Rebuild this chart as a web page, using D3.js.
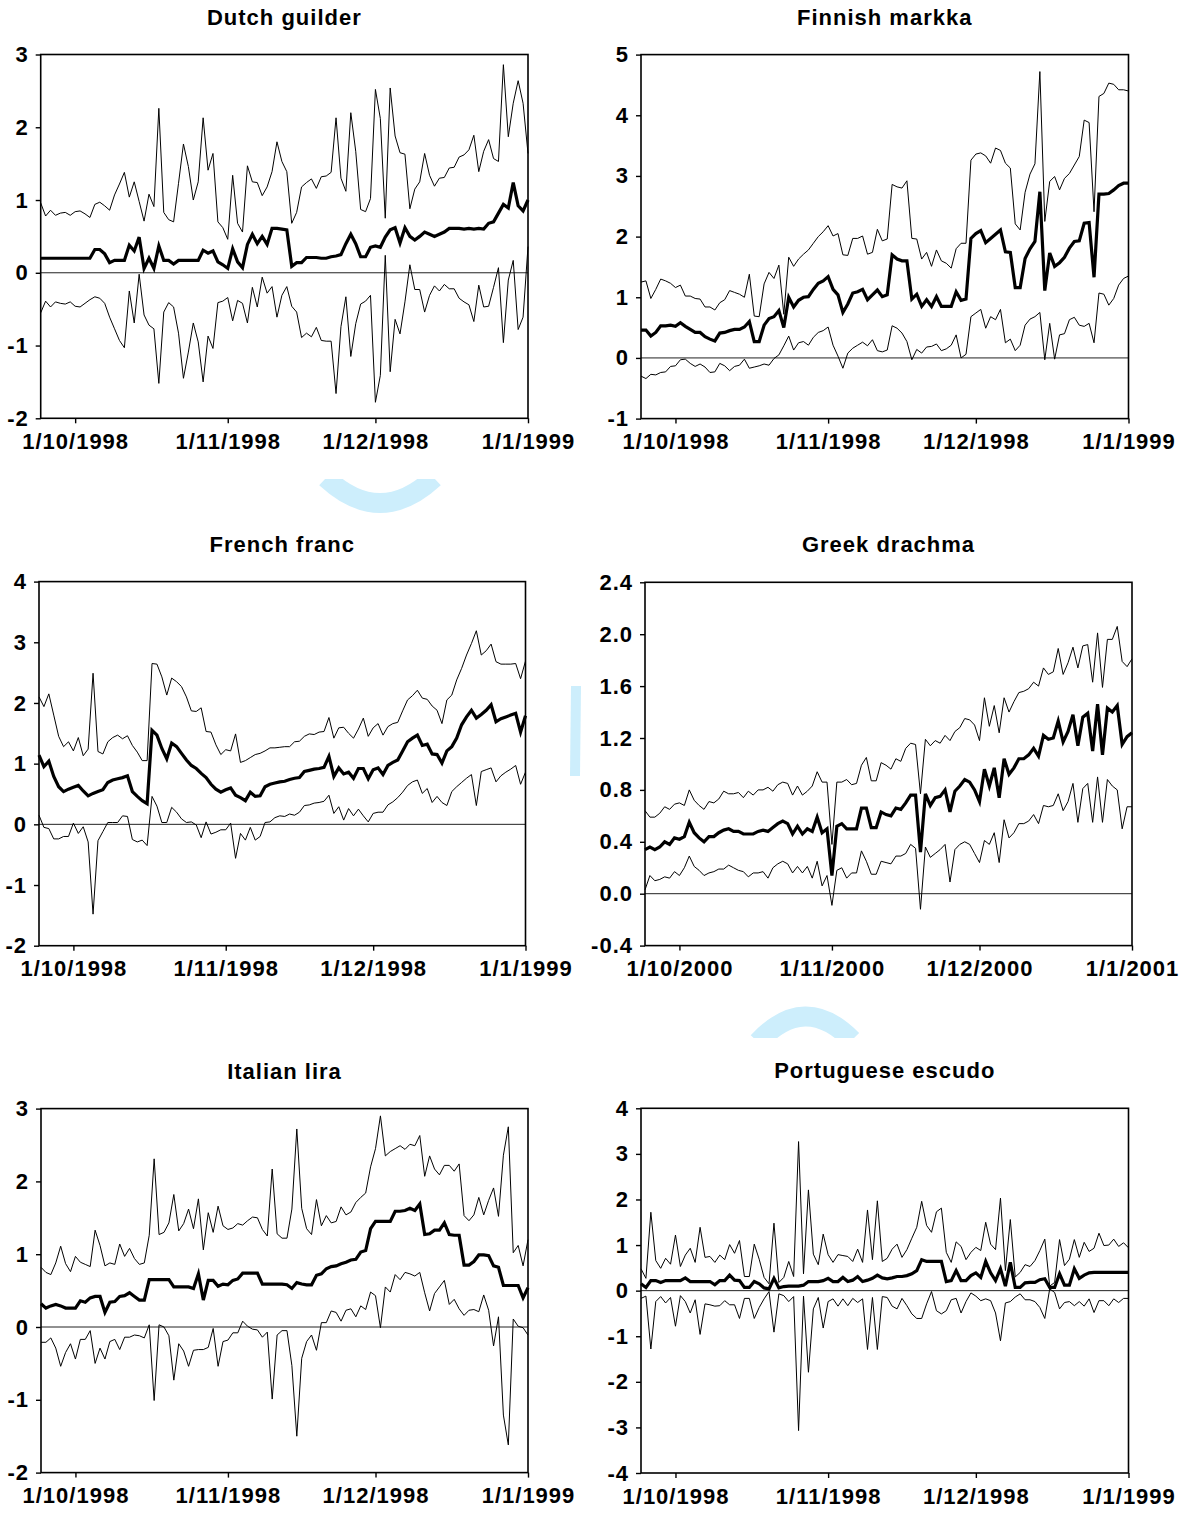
<!DOCTYPE html>
<html>
<head>
<meta charset="utf-8">
<script src="https://cdn.jsdelivr.net/npm/d3@7"></script>
<style>
  html, body { margin: 0; padding: 0; background: #ffffff; }
  svg { display: block; }
  text { font-family: "Liberation Sans", Arial, sans-serif; font-weight: bold; fill: #000; }
</style>
</head>
<body>
<div id="chart"></div>
<script>
// ---------------- DATA ----------------
const dutchUpper = [0.96,0.78,0.86,0.79,0.82,0.83,0.79,0.84,0.85,0.81,
0.76,0.94,0.97,0.92,0.86,1.07,1.22,1.38,1.04,1.25,
0.98,0.71,1.08,0.91,2.26,0.83,0.73,0.70,1.23,1.77,
1.46,1.00,1.25,2.13,1.41,1.64,0.70,0.62,0.46,1.34,
0.68,0.56,1.47,1.25,1.24,1.06,1.18,1.39,1.80,1.53,
1.39,0.68,0.83,1.18,1.24,1.29,1.16,1.32,1.33,1.38,
2.13,1.30,1.12,2.20,1.67,0.87,0.84,1.02,2.52,2.12,
0.75,2.54,1.88,1.65,1.63,0.88,1.15,1.25,1.64,1.34,
1.19,1.30,1.31,1.44,1.45,1.59,1.62,1.69,1.89,1.39,
1.67,1.83,1.57,1.53,2.86,1.87,2.33,2.64,2.33,1.64];
const dutchMid = [0.20,0.20,0.20,0.20,0.20,0.20,0.20,0.20,0.20,0.20,
0.20,0.32,0.32,0.26,0.14,0.17,0.17,0.17,0.38,0.30,
0.49,0.06,0.20,0.06,0.37,0.17,0.17,0.12,0.17,0.17,
0.17,0.17,0.17,0.31,0.27,0.30,0.15,0.11,0.06,0.33,
0.15,0.07,0.39,0.53,0.40,0.50,0.39,0.61,0.61,0.60,
0.59,0.09,0.14,0.14,0.21,0.21,0.21,0.20,0.20,0.22,
0.23,0.25,0.40,0.53,0.40,0.22,0.22,0.35,0.37,0.35,
0.49,0.59,0.62,0.41,0.62,0.50,0.45,0.50,0.56,0.53,
0.50,0.53,0.56,0.61,0.61,0.61,0.60,0.61,0.60,0.61,
0.60,0.68,0.70,0.82,0.94,0.89,1.24,0.92,0.85,1.00];
const dutchLower = [-0.55,-0.39,-0.47,-0.40,-0.42,-0.43,-0.40,-0.46,-0.47,-0.42,
-0.37,-0.33,-0.35,-0.42,-0.61,-0.77,-0.93,-1.03,-0.25,-0.69,
-0.02,-0.58,-0.72,-0.77,-1.52,-0.54,-0.41,-0.47,-0.83,-1.45,
-1.09,-0.69,-0.95,-1.50,-0.87,-1.04,-0.41,-0.39,-0.34,-0.66,
-0.38,-0.42,-0.69,-0.20,-0.47,-0.06,-0.28,-0.19,-0.61,-0.31,
-0.19,-0.46,-0.54,-0.89,-0.83,-0.88,-0.75,-0.93,-0.94,-0.94,
-1.66,-0.74,-0.33,-1.15,-0.70,-0.43,-0.39,-0.31,-1.78,-1.41,
0.24,-1.36,-0.64,-0.84,-0.40,0.11,-0.23,-0.23,-0.54,-0.31,
-0.18,-0.25,-0.16,-0.22,-0.22,-0.35,-0.40,-0.44,-0.67,-0.17,
-0.47,-0.46,-0.20,0.07,-0.96,-0.10,0.17,-0.78,-0.61,0.36];

const finnishUpper = [1.25,1.27,0.98,1.13,1.30,1.27,1.23,1.16,1.20,1.02,
1.02,0.98,0.97,0.84,0.84,0.79,0.91,0.96,1.11,1.08,
1.05,1.00,1.38,0.69,0.68,1.22,1.41,1.31,1.53,0.72,
1.66,1.51,1.63,1.71,1.78,1.89,2.00,2.08,2.18,2.01,
2.05,1.70,1.69,1.97,1.97,2.01,1.71,1.74,2.12,1.93,
1.96,2.86,2.82,2.80,2.92,1.97,1.96,1.63,1.74,1.51,
1.78,1.60,1.56,1.48,1.80,1.89,1.89,3.26,3.36,3.38,
3.33,3.21,3.46,3.42,3.21,3.13,2.21,2.11,2.73,3.03,
3.20,4.72,2.25,2.91,2.99,2.77,2.96,3.04,3.18,3.32,
3.92,3.88,2.41,4.31,4.36,4.53,4.51,4.42,4.42,4.40];
const finnishMid = [0.46,0.46,0.36,0.42,0.53,0.53,0.54,0.52,0.58,0.52,
0.47,0.42,0.42,0.35,0.31,0.28,0.41,0.42,0.45,0.47,
0.47,0.51,0.60,0.27,0.27,0.54,0.65,0.68,0.78,0.50,
1.00,0.84,0.95,1.00,1.01,1.13,1.23,1.27,1.34,1.13,
1.04,0.75,0.89,1.07,1.09,1.13,0.96,1.04,1.12,1.01,
1.04,1.70,1.63,1.60,1.60,0.97,1.05,0.85,0.96,0.85,
1.01,0.85,0.85,0.85,1.09,0.95,0.97,1.97,2.05,2.10,
1.90,1.97,2.04,2.11,1.75,1.74,1.16,1.16,1.64,1.80,
1.92,2.74,1.11,1.73,1.51,1.57,1.66,1.81,1.92,1.93,
2.22,2.23,1.33,2.70,2.70,2.71,2.77,2.84,2.88,2.88];
const finnishLower = [-0.30,-0.34,-0.27,-0.28,-0.24,-0.23,-0.14,-0.13,-0.03,-0.02,
-0.09,-0.14,-0.10,-0.15,-0.24,-0.23,-0.09,-0.13,-0.21,-0.14,
-0.12,-0.02,-0.17,-0.15,-0.13,-0.10,-0.12,-0.01,0.05,0.20,
0.36,0.13,0.25,0.27,0.21,0.34,0.42,0.45,0.51,0.21,
0.03,-0.17,0.08,0.16,0.21,0.26,0.20,0.30,0.12,0.10,
0.13,0.53,0.49,0.41,0.27,-0.03,0.14,0.08,0.18,0.19,
0.23,0.12,0.15,0.21,0.38,0.00,0.06,0.68,0.74,0.80,
0.49,0.68,0.63,0.80,0.25,0.31,0.12,0.21,0.54,0.64,
0.68,0.75,-0.03,0.57,-0.02,0.38,0.40,0.63,0.67,0.54,
0.52,0.57,0.25,1.07,1.05,0.87,0.98,1.20,1.31,1.35];

const frenchUpper = [2.10,1.94,2.15,1.80,1.45,1.28,1.36,1.21,1.43,1.13,
1.24,2.49,1.20,1.16,1.36,1.43,1.47,1.41,1.46,1.30,
1.19,1.05,1.05,2.65,2.64,2.43,2.13,2.41,2.35,2.27,
2.10,1.87,1.86,1.92,1.53,1.52,1.31,1.15,1.23,1.21,
1.49,1.02,1.05,1.10,1.15,1.17,1.21,1.26,1.26,1.27,
1.28,1.28,1.36,1.37,1.45,1.49,1.48,1.52,1.53,1.76,
1.42,1.59,1.60,1.50,1.42,1.57,1.75,1.45,1.59,1.66,
1.47,1.61,1.66,1.68,1.87,2.05,2.12,2.21,2.08,2.06,
1.95,1.88,1.66,2.05,2.13,2.38,2.57,2.79,2.98,3.19,
2.79,2.86,2.97,2.68,2.64,2.64,2.64,2.65,2.40,2.69];
const frenchMid = [1.14,0.95,1.04,0.79,0.62,0.54,0.58,0.61,0.64,0.55,
0.47,0.51,0.54,0.57,0.69,0.73,0.75,0.77,0.80,0.54,
0.46,0.39,0.34,1.55,1.47,1.25,1.08,1.34,1.28,1.17,
1.06,0.97,0.92,0.84,0.77,0.66,0.58,0.53,0.57,0.60,
0.48,0.44,0.39,0.53,0.46,0.47,0.62,0.66,0.68,0.70,
0.71,0.74,0.76,0.77,0.87,0.89,0.91,0.92,0.94,1.12,
0.79,0.93,0.83,0.86,0.76,0.92,0.92,0.75,0.90,0.93,
0.82,0.97,1.02,1.06,1.21,1.36,1.42,1.47,1.30,1.32,
1.16,1.15,1.01,1.21,1.28,1.42,1.64,1.77,1.88,1.75,
1.81,1.88,1.97,1.69,1.74,1.77,1.80,1.83,1.52,1.79];
const frenchLower = [0.15,-0.05,-0.07,-0.24,-0.24,-0.20,-0.20,0.02,-0.15,-0.04,
-0.29,-1.48,-0.27,-0.12,0.03,0.03,0.03,0.14,0.13,-0.25,
-0.29,-0.26,-0.35,0.46,0.30,0.03,0.03,0.28,0.20,0.09,
0.03,0.04,-0.01,-0.22,0.04,-0.16,-0.13,-0.09,-0.09,0.02,
-0.56,-0.15,-0.26,-0.05,-0.26,-0.20,0.03,0.04,0.11,0.14,
0.13,0.17,0.15,0.20,0.31,0.32,0.35,0.36,0.38,0.48,
0.18,0.29,0.07,0.26,0.14,0.25,0.14,0.04,0.18,0.20,
0.20,0.32,0.37,0.44,0.53,0.64,0.70,0.73,0.51,0.59,
0.36,0.46,0.36,0.31,0.54,0.62,0.69,0.76,0.82,0.31,
0.87,0.90,0.93,0.70,0.80,0.86,0.91,0.97,0.66,0.86];

const greekUpper = [0.64,0.59,0.59,0.62,0.67,0.65,0.69,0.70,0.68,0.80,
0.72,0.68,0.65,0.71,0.70,0.73,0.79,0.77,0.77,0.78,
0.74,0.79,0.76,0.80,0.80,0.82,0.79,0.84,0.86,0.85,
0.76,0.83,0.76,0.79,0.83,0.94,0.86,0.86,0.38,0.86,
0.86,0.88,0.84,0.85,0.99,1.05,0.87,0.87,1.01,0.99,
0.96,1.04,1.02,1.12,1.16,1.15,0.77,1.19,1.14,1.18,
1.16,1.22,1.18,1.25,1.28,1.35,1.34,1.30,1.18,1.51,
1.29,1.45,1.24,1.51,1.40,1.48,1.55,1.56,1.58,1.63,
1.60,1.74,1.69,1.71,1.89,1.69,1.78,1.90,1.74,1.91,
1.92,1.63,2.01,1.59,1.96,1.96,2.06,1.79,1.75,1.81];
const greekMid = [0.34,0.36,0.34,0.36,0.40,0.38,0.43,0.42,0.44,0.55,
0.47,0.43,0.40,0.44,0.44,0.47,0.49,0.50,0.48,0.48,
0.46,0.46,0.46,0.48,0.49,0.48,0.51,0.54,0.56,0.54,
0.46,0.52,0.46,0.50,0.48,0.59,0.47,0.50,0.14,0.52,
0.54,0.50,0.50,0.50,0.66,0.66,0.51,0.51,0.63,0.61,
0.60,0.66,0.65,0.70,0.76,0.76,0.32,0.77,0.68,0.74,
0.75,0.80,0.63,0.79,0.83,0.88,0.86,0.80,0.71,0.96,
0.83,0.97,0.74,1.04,0.92,0.97,1.04,1.04,1.07,1.12,
1.06,1.22,1.19,1.20,1.33,1.17,1.25,1.38,1.14,1.36,
1.39,1.10,1.46,1.07,1.43,1.40,1.45,1.15,1.21,1.24];
const greekLower = [0.03,0.14,0.10,0.11,0.13,0.12,0.17,0.14,0.20,0.29,
0.21,0.18,0.14,0.16,0.17,0.19,0.19,0.22,0.20,0.18,
0.17,0.13,0.16,0.16,0.17,0.12,0.20,0.23,0.25,0.23,
0.16,0.21,0.16,0.21,0.12,0.25,0.06,0.14,-0.09,0.18,
0.20,0.12,0.16,0.16,0.33,0.25,0.15,0.15,0.25,0.24,
0.23,0.29,0.29,0.31,0.38,0.35,-0.12,0.36,0.28,0.31,
0.34,0.38,0.09,0.34,0.38,0.40,0.38,0.31,0.24,0.41,
0.38,0.47,0.24,0.57,0.43,0.47,0.54,0.54,0.56,0.61,
0.54,0.68,0.67,0.68,0.77,0.64,0.71,0.85,0.55,0.81,
0.85,0.55,0.90,0.55,0.88,0.83,0.80,0.50,0.67,0.67];

const italianUpper = [0.82,0.75,0.72,0.88,1.11,0.87,0.76,0.97,0.89,0.86,
0.83,1.33,1.12,0.84,0.88,0.86,1.14,0.97,1.08,0.94,
0.86,0.88,1.26,2.31,1.27,1.30,1.43,1.82,1.32,1.42,
1.62,1.35,1.76,1.06,1.57,1.30,1.66,1.39,1.34,1.36,
1.42,1.40,1.46,1.51,1.50,1.34,1.25,2.17,1.28,1.22,
1.22,1.62,2.72,1.63,1.35,1.27,1.75,1.39,1.53,1.43,
1.45,1.65,1.54,1.58,1.71,1.78,1.84,2.20,2.45,2.90,
2.35,2.41,2.45,2.49,2.44,2.51,2.49,2.63,2.07,2.35,
2.17,2.09,2.22,2.22,2.14,2.24,1.53,1.46,1.54,1.78,
1.54,1.74,1.91,1.52,2.36,2.75,1.02,1.12,0.84,1.20];
const italianMid = [0.32,0.26,0.29,0.31,0.29,0.26,0.26,0.26,0.36,0.34,
0.40,0.42,0.42,0.20,0.34,0.35,0.42,0.43,0.47,0.42,
0.37,0.37,0.65,0.65,0.65,0.65,0.65,0.55,0.55,0.55,
0.55,0.53,0.73,0.37,0.64,0.64,0.56,0.59,0.58,0.64,
0.66,0.74,0.74,0.74,0.74,0.59,0.59,0.59,0.59,0.59,
0.58,0.53,0.61,0.59,0.58,0.58,0.71,0.73,0.80,0.83,
0.84,0.87,0.89,0.92,0.93,1.03,1.05,1.35,1.45,1.45,
1.45,1.45,1.59,1.59,1.60,1.63,1.60,1.69,1.27,1.28,
1.33,1.33,1.43,1.27,1.26,1.26,0.85,0.85,0.90,0.99,
0.99,0.98,0.84,0.82,0.57,0.57,0.57,0.57,0.40,0.54];
const italianLower = [-0.21,-0.21,-0.15,-0.29,-0.54,-0.35,-0.23,-0.44,-0.17,-0.17,
-0.05,-0.50,-0.29,-0.44,-0.20,-0.17,-0.31,-0.14,-0.14,-0.11,
-0.12,-0.15,0.03,-1.01,0.03,0.00,-0.12,-0.73,-0.23,-0.33,
-0.54,-0.32,-0.31,-0.31,-0.28,-0.02,-0.54,-0.20,-0.18,-0.08,
-0.08,0.08,0.01,-0.03,-0.04,-0.14,-0.07,-0.99,-0.11,-0.05,
-0.05,-0.53,-1.50,-0.43,-0.20,-0.11,-0.32,0.06,0.06,0.22,
0.20,0.08,0.23,0.25,0.14,0.29,0.24,0.48,0.43,-0.01,
0.55,0.48,0.72,0.65,0.75,0.73,0.70,0.75,0.47,0.22,
0.46,0.55,0.64,0.31,0.38,0.25,0.16,0.23,0.24,0.21,
0.44,0.23,-0.26,0.14,-1.21,-1.62,0.11,0.01,-0.01,-0.11];

const portugueseUpper = [0.48,0.27,1.72,0.66,0.49,0.71,0.58,1.22,0.53,0.78,
0.93,0.62,1.39,0.73,0.75,0.62,0.78,0.68,1.01,0.82,
1.10,0.31,0.31,1.02,0.69,0.29,0.15,1.48,0.18,0.29,
0.64,0.31,3.27,0.37,2.21,0.80,0.57,1.24,0.79,0.62,
0.79,0.77,0.75,0.64,0.91,0.62,1.77,0.68,1.97,0.64,
0.71,0.91,1.02,0.73,0.90,1.15,1.39,1.96,1.43,1.28,
1.73,1.81,0.84,0.62,1.07,0.97,0.68,0.84,0.95,0.88,
1.50,1.02,0.90,2.03,0.44,1.56,0.30,0.40,0.57,0.53,
0.66,0.88,1.13,0.10,0.18,1.12,0.55,0.69,1.12,0.73,
1.06,0.86,0.93,1.26,0.99,1.00,1.13,0.97,1.05,0.94];
const portugueseMid = [0.15,0.07,0.22,0.22,0.18,0.22,0.22,0.22,0.22,0.28,
0.20,0.20,0.20,0.20,0.20,0.13,0.22,0.22,0.34,0.23,
0.22,0.07,0.07,0.20,0.15,0.06,0.04,0.27,0.06,0.09,
0.10,0.10,0.10,0.12,0.20,0.20,0.20,0.22,0.27,0.20,
0.20,0.29,0.20,0.23,0.31,0.20,0.23,0.27,0.34,0.28,
0.26,0.28,0.31,0.31,0.33,0.37,0.44,0.68,0.64,0.64,
0.64,0.64,0.20,0.22,0.44,0.22,0.22,0.33,0.39,0.29,
0.64,0.39,0.22,0.48,0.10,0.62,0.07,0.07,0.17,0.18,
0.18,0.24,0.26,0.07,0.07,0.37,0.12,0.12,0.48,0.27,
0.34,0.39,0.40,0.40,0.40,0.40,0.40,0.40,0.40,0.40];
const portugueseLower = [-0.17,-0.12,-1.28,-0.24,-0.13,-0.27,-0.15,-0.78,-0.11,-0.24,
-0.49,-0.20,-0.96,-0.29,-0.31,-0.34,-0.33,-0.22,-0.31,-0.31,
-0.61,-0.17,-0.17,-0.61,-0.37,-0.18,-0.02,-0.91,-0.07,-0.11,
-0.24,-0.13,-3.07,-0.12,-1.79,-0.40,-0.15,-0.82,-0.24,-0.18,
-0.34,-0.18,-0.33,-0.17,-0.26,-0.18,-1.29,-0.15,-1.29,-0.13,
-0.15,-0.34,-0.40,-0.17,-0.33,-0.51,-0.61,-0.61,-0.29,-0.02,
-0.44,-0.51,-0.44,-0.20,-0.17,-0.49,-0.24,-0.05,-0.12,-0.22,
-0.18,-0.22,-0.49,-1.10,-0.27,-0.24,-0.14,-0.07,-0.20,-0.20,
-0.24,-0.37,-0.61,0.04,-0.04,-0.40,-0.26,-0.24,-0.33,-0.24,
-0.34,-0.18,-0.48,-0.22,-0.22,-0.33,-0.18,-0.26,-0.17,-0.17];

// tick labels
const xLabels1998 = ["1/10/1998", "1/11/1998", "1/12/1998", "1/1/1999"];
const xLabels2000 = ["1/10/2000", "1/11/2000", "1/12/2000", "1/1/2001"];
const ticksDutch = [-2, -1, 0, 1, 2, 3];
const ticksFinnish = [-1, 0, 1, 2, 3, 4, 5];
const ticksFrench = [-2, -1, 0, 1, 2, 3, 4];
const ticksGreek = [-0.4, 0.0, 0.4, 0.8, 1.2, 1.6, 2.0, 2.4];
const ticksItalian = [-2, -1, 0, 1, 2, 3];
const ticksPortuguese = [-4, -3, -2, -1, 0, 1, 2, 3, 4];
const startDates = ["24/9/1998", "24/9/2000"];

// ---------------- LAYOUT ----------------
const parseD = d3.utcParse("%d/%m/%Y");
const intFmt = d => String(d);
const oneDec = d => d.toFixed(1);

const panels = [
  { title: "Dutch guilder", up: dutchUpper, mid: dutchMid, lo: dutchLower, ticks: ticksDutch, fmt: intFmt,
    xl: xLabels1998, start: startDates[0], L: 40.7, R: 528, T: 54.5, B: 418.3 },
  { title: "Finnish markka", up: finnishUpper, mid: finnishMid, lo: finnishLower, ticks: ticksFinnish, fmt: intFmt,
    xl: xLabels1998, start: startDates[0], L: 641, R: 1128.5, T: 54.6, B: 418.6 },
  { title: "French franc", up: frenchUpper, mid: frenchMid, lo: frenchLower, ticks: ticksFrench, fmt: intFmt,
    xl: xLabels1998, start: startDates[0], L: 39, R: 525.5, T: 581.6, B: 945.7 },
  { title: "Greek drachma", up: greekUpper, mid: greekMid, lo: greekLower, ticks: ticksGreek, fmt: oneDec,
    xl: xLabels2000, start: startDates[1], L: 645, R: 1132, T: 582.3, B: 945.6 },
  { title: "Italian lira", up: italianUpper, mid: italianMid, lo: italianLower, ticks: ticksItalian, fmt: intFmt,
    xl: xLabels1998, start: startDates[0], L: 41, R: 528, T: 1108.6, B: 1472.6 },
  { title: "Portuguese escudo", up: portugueseUpper, mid: portugueseMid, lo: portugueseLower, ticks: ticksPortuguese, fmt: intFmt,
    xl: xLabels1998, start: startDates[0], L: 641, R: 1128.5, T: 1108.3, B: 1473 }
];

const svg = d3.select("#chart").append("svg")
  .attr("width", 1183).attr("height", 1513)
  .attr("viewBox", "0 0 1183 1513");

svg.append("rect").attr("width", 1183).attr("height", 1513).attr("fill", "#ffffff");

// faint watermark fragments
const wm = svg.append("g").attr("fill", "none").attr("stroke", "#cdeefc").attr("stroke-linecap", "butt");
wm.append("path").attr("d", "M326,478 Q380,528 434,478").attr("stroke-width", 20);
wm.append("path").attr("d", "M576,686 L575,776").attr("stroke-width", 10);
wm.append("path").attr("d", "M758,1042 Q805,992 852,1040").attr("stroke-width", 20);
// white strips to hide the upper part of fragments (as in the reference)
svg.append("rect").attr("x", 300).attr("y", 455).attr("width", 160).attr("height", 24).attr("fill", "#fff");
svg.append("rect").attr("x", 740).attr("y", 1038).attr("width", 130).attr("height", 20).attr("fill", "#fff");

panels.forEach(p => {
  const start = parseD(p.start);
  const dates = p.mid.map((_, i) => d3.utcDay.offset(start, i));
  const x = d3.scaleUtc().domain([dates[0], dates[dates.length - 1]]).range([p.L, p.R]);
  const y = d3.scaleLinear().domain([p.ticks[0], p.ticks[p.ticks.length - 1]]).range([p.B, p.T]);

  const g = svg.append("g");

  // zero line
  g.append("line")
    .attr("x1", p.L).attr("x2", p.R)
    .attr("y1", y(0)).attr("y2", y(0))
    .attr("stroke", "#222").attr("stroke-width", 1);

  const line = d3.line().x((d, i) => x(dates[i])).y(d => y(d));

  [p.up, p.lo].forEach(arr => {
    g.append("path").datum(arr).attr("d", line)
      .attr("fill", "none").attr("stroke", "#000").attr("stroke-width", 1)
      .attr("stroke-linejoin", "miter").attr("stroke-miterlimit", 10);
  });
  g.append("path").datum(p.mid).attr("d", line)
    .attr("fill", "none").attr("stroke", "#000").attr("stroke-width", 3.2)
    .attr("stroke-linejoin", "miter").attr("stroke-miterlimit", 4);

  // frame
  g.append("rect")
    .attr("x", p.L).attr("y", p.T)
    .attr("width", p.R - p.L).attr("height", p.B - p.T)
    .attr("fill", "none").attr("stroke", "#000").attr("stroke-width", 1.6);

  // axes
  const ya = g.append("g").attr("transform", `translate(${p.L},0)`)
    .call(d3.axisLeft(y).tickValues(p.ticks).tickSize(5).tickPadding(7).tickFormat(p.fmt));
  const xa = g.append("g").attr("transform", `translate(0,${p.B})`)
    .call(d3.axisBottom(x).tickValues(p.xl.map(parseD)).tickSize(5).tickPadding(10)
      .tickFormat((d, i) => p.xl[i]));
  [ya, xa].forEach(a => {
    a.select(".domain").remove();
    a.selectAll(".tick line").attr("stroke", "#000").attr("stroke-width", 1.4);
    a.selectAll("text")
      .attr("font-family", "'Liberation Sans', Arial, sans-serif")
      .attr("font-weight", "bold").attr("font-size", 22)
      .attr("letter-spacing", "1px").attr("fill", "#000");
  });

  // title
  g.append("text")
    .attr("x", (p.L + p.R) / 2).attr("y", p.T - 30)
    .attr("text-anchor", "middle")
    .attr("font-size", 22).attr("letter-spacing", "1px")
    .text(p.title);
});
</script>
</body>
</html>
